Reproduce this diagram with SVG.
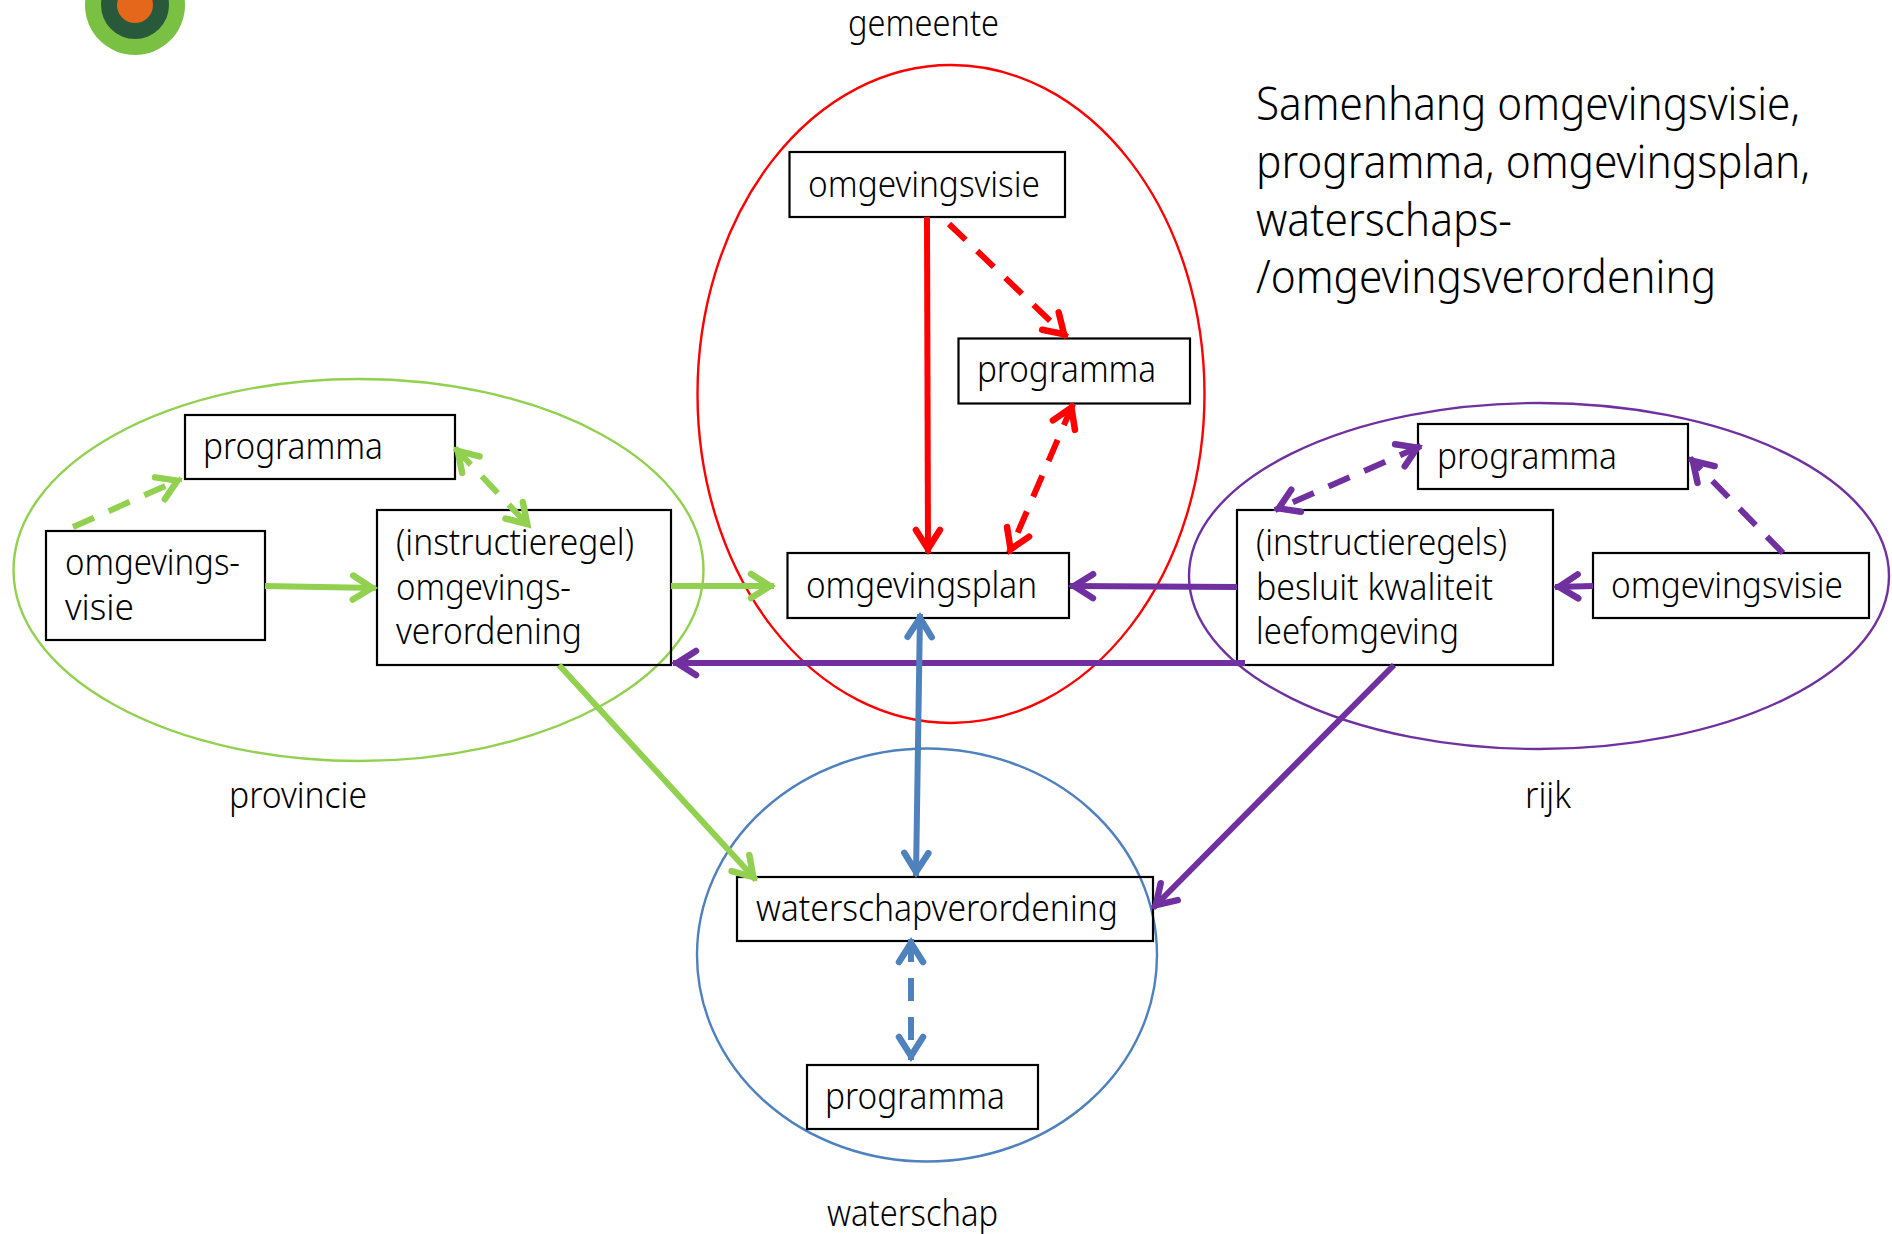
<svg xmlns="http://www.w3.org/2000/svg" width="1892" height="1234" viewBox="0 0 1892 1234">
<style>
text{font-family:"Noto Sans","Liberation Sans",sans-serif;font-size:36px;font-weight:300;fill:#000}
.t{font-size:46px}
.b{fill:none;stroke:#000;stroke-width:2.2}
.e{fill:none;stroke-width:2.4}
.c{fill:none;stroke-width:6}
.d{stroke-dasharray:23 16}
.g{stroke:#92D050}.r{stroke:#FF0000}.p{stroke:#7030A0}.u{stroke:#4F81BD}
.h{fill:none;stroke-width:6.5;stroke-linecap:round}
</style>
<defs>
<marker id="ag" markerUnits="userSpaceOnUse" markerWidth="40" markerHeight="40" refX="32" refY="20" orient="auto-start-reverse"><path class="h g" d="M9,8 L28,20 L9,32"/></marker>
<marker id="ar" markerUnits="userSpaceOnUse" markerWidth="40" markerHeight="40" refX="32" refY="20" orient="auto-start-reverse"><path class="h r" d="M9,8 L28,20 L9,32"/></marker>
<marker id="ap" markerUnits="userSpaceOnUse" markerWidth="40" markerHeight="40" refX="32" refY="20" orient="auto-start-reverse"><path class="h p" d="M9,8 L28,20 L9,32"/></marker>
<marker id="au" markerUnits="userSpaceOnUse" markerWidth="40" markerHeight="40" refX="32" refY="20" orient="auto-start-reverse"><path class="h u" d="M9,8 L28,20 L9,32"/></marker>
</defs>
<g id="logo"><circle cx="135" cy="5" r="50" fill="#7AC143"/><circle cx="135" cy="5" r="34" fill="#27593A"/><circle cx="135" cy="5" r="18" fill="#E5671B"/></g>
<g id="title">
<text class="t" x="1256" y="120" textLength="544" lengthAdjust="spacingAndGlyphs">Samenhang omgevingsvisie,</text>
<text class="t" x="1256" y="178" textLength="554" lengthAdjust="spacingAndGlyphs">programma, omgevingsplan,</text>
<text class="t" x="1256" y="236" textLength="256" lengthAdjust="spacingAndGlyphs">waterschaps-</text>
<text class="t" x="1256" y="293" textLength="460" lengthAdjust="spacingAndGlyphs">/omgevingsverordening</text>
</g>
<g id="gemeente"><ellipse class="e r" cx="951" cy="394" rx="253.5" ry="329"/><text x="848" y="36" textLength="151" lengthAdjust="spacingAndGlyphs">gemeente</text></g>
<g id="provincie"><ellipse class="e g" cx="358.5" cy="570" rx="345" ry="191"/><text x="229" y="808" textLength="138" lengthAdjust="spacingAndGlyphs">provincie</text></g>
<g id="rijk"><ellipse class="e p" cx="1539" cy="576" rx="350" ry="173"/><text x="1525" y="808" textLength="46" lengthAdjust="spacingAndGlyphs">rijk</text></g>
<g id="waterschap"><ellipse class="e u" cx="927" cy="955" rx="230" ry="206.5"/><text x="827" y="1226" textLength="171" lengthAdjust="spacingAndGlyphs">waterschap</text></g>
<g id="gem-visie"><rect class="b" x="789.5" y="152" width="275.5" height="65"/><text x="808" y="197" textLength="232" lengthAdjust="spacingAndGlyphs">omgevingsvisie</text></g>
<g id="gem-programma"><rect class="b" x="958.5" y="338.5" width="231.5" height="65"/><text x="977" y="382" textLength="179" lengthAdjust="spacingAndGlyphs">programma</text></g>
<g id="gem-plan"><rect class="b" x="787.5" y="553" width="281.5" height="65"/><text x="806" y="598" textLength="231" lengthAdjust="spacingAndGlyphs">omgevingsplan</text></g>
<g id="prov-programma"><rect class="b" x="185" y="415" width="270" height="64"/><text x="203" y="459" textLength="180" lengthAdjust="spacingAndGlyphs">programma</text></g>
<g id="prov-visie"><rect class="b" x="46" y="531" width="219" height="109"/><text x="65" y="575" textLength="175" lengthAdjust="spacingAndGlyphs">omgevings-</text><text x="65" y="620" textLength="69" lengthAdjust="spacingAndGlyphs">visie</text></g>
<g id="prov-verordening"><rect class="b" x="377" y="510" width="294" height="155"/><text x="396" y="555" textLength="238" lengthAdjust="spacingAndGlyphs">(instructieregel)</text><text x="396" y="600" textLength="175" lengthAdjust="spacingAndGlyphs">omgevings-</text><text x="396" y="644" textLength="186" lengthAdjust="spacingAndGlyphs">verordening</text></g>
<g id="rijk-programma"><rect class="b" x="1418" y="424" width="270" height="65"/><text x="1437" y="469" textLength="180" lengthAdjust="spacingAndGlyphs">programma</text></g>
<g id="rijk-besluit"><rect class="b" x="1237" y="510" width="316" height="155"/><text x="1256" y="555" textLength="251" lengthAdjust="spacingAndGlyphs">(instructieregels)</text><text x="1256" y="600" textLength="237" lengthAdjust="spacingAndGlyphs">besluit kwaliteit</text><text x="1256" y="644" textLength="203" lengthAdjust="spacingAndGlyphs">leefomgeving</text></g>
<g id="rijk-visie"><rect class="b" x="1593" y="553" width="276" height="65"/><text x="1611" y="598" textLength="232" lengthAdjust="spacingAndGlyphs">omgevingsvisie</text></g>
<g id="ws-verordening"><rect class="b" x="737" y="877" width="416" height="64"/><text x="756" y="921" textLength="362" lengthAdjust="spacingAndGlyphs">waterschapverordening</text></g>
<g id="ws-programma"><rect class="b" x="807" y="1065" width="231" height="64"/><text x="825" y="1109" textLength="180" lengthAdjust="spacingAndGlyphs">programma</text></g>
<g id="connectors">
<path class="c g d" marker-end="url(#ag)" d="M73,527 L181,479"/>
<path class="c g d" marker-start="url(#ag)" marker-end="url(#ag)" d="M455,448 L530,527"/>
<path class="c g" marker-end="url(#ag)" d="M265,586 L376,588"/>
<path class="c g" marker-end="url(#ag)" d="M671,586 L774,586"/>
<path class="c g" marker-end="url(#ag)" d="M559,665 L756,880"/>
<path class="c r" marker-end="url(#ar)" d="M927,217 L928,553"/>
<path class="c r d" marker-end="url(#ar)" d="M949,224 L1067,337"/>
<path class="c r d" marker-start="url(#ar)" marker-end="url(#ar)" d="M1073,404 L1009,553"/>
<path class="c p" marker-end="url(#ap)" d="M1237,587 L1070,586"/>
<path class="c p" marker-end="url(#ap)" d="M1245,663 L673,663"/>
<path class="c p" marker-end="url(#ap)" d="M1394,665 L1153,908"/>
<path class="c p d" marker-start="url(#ap)" marker-end="url(#ap)" d="M1421,446 L1275,510"/>
<path class="c p" marker-end="url(#ap)" d="M1593,586 L1555,587"/>
<path class="c p d" marker-end="url(#ap)" d="M1783,553 L1690,458"/>
<path class="c u" marker-start="url(#au)" marker-end="url(#au)" d="M920,614 L916,876"/>
<path class="c u d" marker-start="url(#au)" marker-end="url(#au)" d="M911,939 L911,1060"/>
</g>
</svg>
